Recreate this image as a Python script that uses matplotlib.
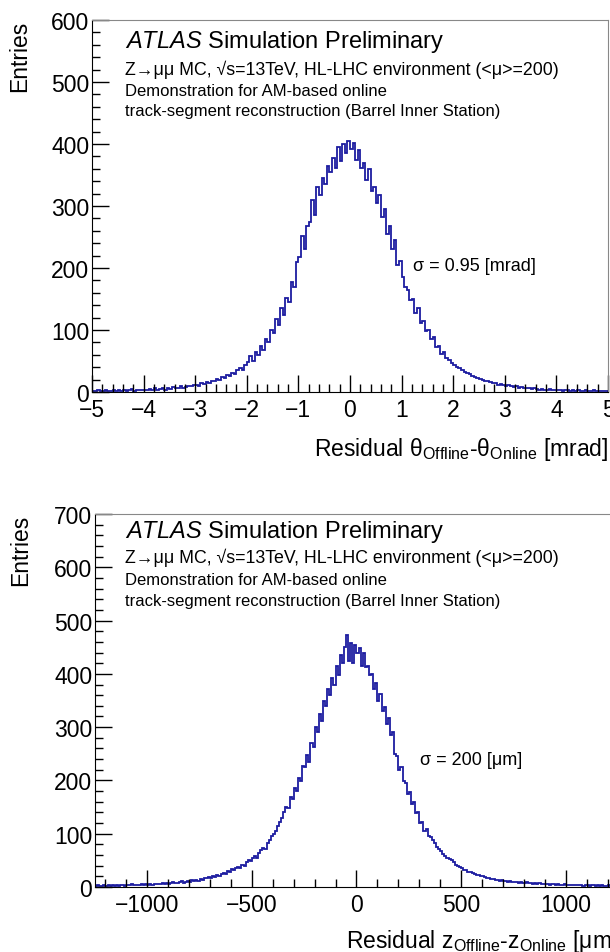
import numpy as np
import matplotlib
matplotlib.use("Agg")
import matplotlib.pyplot as plt
from matplotlib.ticker import MultipleLocator

plt.rcParams['font.family'] = ['Liberation Sans', 'DejaVu Sans']
plt.rcParams['mathtext.fontset'] = 'custom'
plt.rcParams['mathtext.rm'] = 'Liberation Sans'
plt.rcParams['mathtext.it'] = 'Liberation Sans:italic'

# theta residual, 200 bins of 0.05 mrad from -5 to 5
theta_lo, theta_hi = -5.0, 5.0
theta_counts = [
    2, 1, 3, 2, 2, 4, 1, 2, 3, 2, 3, 2, 4, 2, 3, 5, 2, 3, 4, 3,
    4, 3, 5, 4, 6, 3, 5, 7, 4, 6, 5, 8, 6, 7, 9, 6, 8, 10, 9, 11,
    12, 10, 14, 13, 16, 15, 18, 17, 21, 19, 24, 22, 27, 26, 31, 29, 35, 38, 36, 44,
    48, 58, 50, 64, 60, 75, 68, 85, 80, 100, 95, 118, 108, 135, 125, 152, 145, 178, 170, 210,
    218, 252, 230, 268, 275, 310, 285, 330, 318, 345, 336, 365, 355, 378, 362, 395, 372, 400, 385, 405,
    392, 402, 375, 390, 362, 370, 342, 360, 325, 330, 305, 318, 282, 295, 255, 268, 230, 245, 205, 212,
    185, 170, 165, 148, 150, 128, 135, 112, 115, 98, 100, 85, 88, 72, 75, 62, 64, 55, 52, 47,
    44, 41, 38, 36, 33, 30, 29, 26, 25, 23, 21, 20, 18, 17, 16, 15, 14, 12, 13, 11,
    10, 11, 9, 8, 9, 7, 8, 6, 7, 6, 5, 6, 5, 4, 5, 4, 3, 5, 4, 3,
    3, 4, 2, 3, 3, 2, 4, 2, 3, 2, 2, 3, 1, 2, 3, 2, 2, 1, 2, 2,
]

# z residual, 250 bins of 10 um from -1250 to 1250
z_lo, z_hi = -1250.0, 1250.0
z_counts = [
    2, 3, 1, 2, 3, 2, 4, 2, 3, 2,
    3, 2, 4, 3, 2, 4, 3, 5, 3, 4,
    4, 3, 5, 4, 6, 4, 5, 3, 6, 5,
    6, 5, 7, 6, 8, 6, 7, 9, 7, 8,
    9, 11, 8, 10, 12, 10, 13, 11, 14, 12,
    15, 13, 17, 16, 18, 16, 20, 19, 22, 21,
    24, 27, 25, 30, 28, 33, 31, 35, 38, 36,
    42, 40, 46, 50, 48, 55, 58, 54, 64, 70,
    74, 72, 82, 88, 95, 100, 106, 115, 122, 130,
    140, 150, 148, 168, 165, 185, 180, 205, 198, 228,
    225, 248, 235, 270, 262, 300, 290, 325, 312, 350,
    340, 372, 360, 392, 380, 415, 398, 435, 420, 450,
    473, 425, 458, 420, 455, 440, 448, 415, 440, 412,
    415, 398, 400, 372, 382, 350, 362, 330, 338, 305,
    318, 285, 290, 250, 245, 220, 225, 198, 195, 175,
    178, 155, 160, 138, 140, 120, 122, 105, 108, 95,
    94, 88, 82, 76, 72, 68, 62, 58, 55, 52,
    50, 46, 42, 40, 38, 35, 32, 31, 29, 28,
    26, 24, 23, 22, 20, 21, 18, 17, 16, 15,
    15, 14, 13, 12, 13, 11, 12, 10, 11, 10,
    9, 10, 8, 9, 8, 7, 9, 7, 8, 6,
    7, 6, 7, 5, 6, 5, 6, 4, 5, 5,
    4, 5, 4, 3, 5, 4, 3, 4, 3, 4,
    3, 4, 3, 2, 3, 4, 2, 3, 3, 2,
    3, 2, 3, 2, 2, 3, 2, 1, 2, 3,
]

header = [
    "Z\u2192\u03bc\u03bc MC, \u221as=13TeV, HL-LHC environment (<\u03bc>=200)",
    "Demonstration for AM-based online",
    "track-segment reconstruction (Barrel Inner Station)",
]
header_sizes = [12.8, 12, 12]

line_col = '#1c1ca0'

fig = plt.figure(figsize=(6.1, 9.53), dpi=100)
ax1 = fig.add_axes([0.1508, 0.5876, 0.8459, 0.3903])
ax2 = fig.add_axes([0.1557, 0.0682, 0.8574, 0.3914])


def style(ax, xmaj, xmin, ymaj, ymin):
    ax.xaxis.set_major_locator(MultipleLocator(xmaj))
    ax.xaxis.set_minor_locator(MultipleLocator(xmin))
    ax.yaxis.set_major_locator(MultipleLocator(ymaj))
    ax.yaxis.set_minor_locator(MultipleLocator(ymin))
    ax.tick_params(which='both', direction='in', labelsize=16.5, top=False, right=False)
    ax.tick_params(which='major', length=12, width=1)
    ax.tick_params(which='minor', length=6, width=1)
    ax.tick_params(axis='x', pad=4)
    ax.tick_params(axis='y', pad=2)
    for s in ['top', 'right']:
        ax.spines[s].set_color('#888888')
    for s in ['left', 'bottom']:
        ax.spines[s].set_color('black')


def header_block(ax, x0, ys):
    ax.text(x0, ys[0], r'$\bf\it{ATLAS}$ Simulation Preliminary', fontsize=17,
            transform=ax.transAxes, va='baseline')
    for txt, fs, yy in zip(header, header_sizes, ys[1:]):
        ax.text(x0, yy, txt, fontsize=fs, transform=ax.transAxes, va='baseline')


# top panel
edges1 = np.linspace(theta_lo, theta_hi, len(theta_counts) + 1)
ax1.stairs(theta_counts, edges1, color=line_col, lw=1.3)
ax1.set_xlim(theta_lo, theta_hi)
ax1.set_ylim(0, 600)
style(ax1, 1, 0.2, 100, 20)
ax1.text(-0.14, 1.0, 'Entries', rotation=90, ha='center', va='top',
         fontsize=16.5, transform=ax1.transAxes)
ax1.text(1.0, -0.169, 'Residual \u03b8$_{\\rm Offline}$-\u03b8$_{\\rm Online}$ [mrad]',
         ha='right', va='baseline', fontsize=16.5, transform=ax1.transAxes)
header_block(ax1, 0.064, [0.927, 0.855, 0.798, 0.745])
ax1.text(0.622, 0.328, '\u03c3 = 0.95 [mrad]', fontsize=13,
         transform=ax1.transAxes, va='baseline')

# bottom panel
edges2 = np.linspace(z_lo, z_hi, len(z_counts) + 1)
ax2.stairs(z_counts, edges2, color=line_col, lw=1.3)
ax2.set_xlim(z_lo, z_hi)
ax2.set_ylim(0, 700)
style(ax2, 500, 100, 100, 20)
ax2.text(-0.143, 1.0, 'Entries', rotation=90, ha='center', va='top',
         fontsize=16.5, transform=ax2.transAxes)
ax2.text(1.0, -0.161, 'Residual z$_{\\rm Offline}$-z$_{\\rm Online}$ [\u03bcm]',
         ha='right', va='baseline', fontsize=16.5, transform=ax2.transAxes)
header_block(ax2, 0.057, [0.938, 0.871, 0.812, 0.756])
ax2.text(0.621, 0.33, '\u03c3 = 200 [\u03bcm]', fontsize=13,
         transform=ax2.transAxes, va='baseline')

fig.savefig('out.png', dpi=100)
